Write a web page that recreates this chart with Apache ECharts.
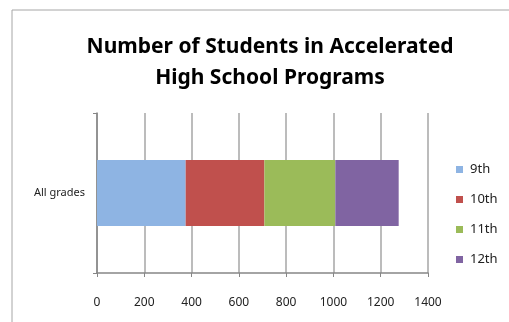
<!DOCTYPE html>
<html>
<head>
<meta charset="utf-8">
<script src="https://cdn.jsdelivr.net/npm/echarts@6/dist/echarts.min.js"></script>
<style>
  html, body { margin: 0; padding: 0; background: #fff; }
  #chart { width: 509px; height: 322px; }
</style>
</head>
<body>
<div id="chart"></div>
<script>
// data
var categories = ['All grades'];
var grades = ['9th', '10th', '11th', '12th'];
var values = [375, 333, 300, 268];
var colors = ['#8EB4E3', '#C0504D', '#9BBB59', '#8064A2'];
var xTicks = [0, 1400, 200];

var chart = echarts.init(document.getElementById('chart'));

var series = grades.map(function (g, i) {
  return {
    name: g,
    type: 'bar',
    stack: 'all',
    barWidth: 66,
    itemStyle: { color: colors[i] },
    data: [values[i]]
  };
});

chart.setOption({
  backgroundColor: '#fff',
  animation: false,
  textStyle: { fontFamily: 'Noto Sans' },
  graphic: [{
    type: 'rect',
    shape: { x: 12, y: 10, width: 520, height: 330 },
    style: { fill: 'none', stroke: '#a6a6a6', lineWidth: 1 }
  }],
  title: {
    text: 'Number of Students in Accelerated\nHigh School Programs',
    left: 265,
    top: 27,
    textAlign: 'center',
    textStyle: {
      fontFamily: 'Noto Sans',
      fontWeight: 'bold',
      fontSize: 21,
      lineHeight: 31,
      color: '#000'
    }
  },
  legend: {
    orient: 'vertical',
    left: 451,
    top: 158,
    itemWidth: 7,
    itemHeight: 7,
    itemGap: 17,
    icon: 'rect',
    textStyle: { fontSize: 13, color: '#222', padding: [0, 0, 0, 2] },
    data: grades
  },
  grid: { left: 97, right: 81, top: 113, bottom: 49, containLabel: false },
  xAxis: {
    type: 'value',
    min: xTicks[0],
    max: xTicks[1],
    interval: xTicks[2],
    axisLine: { show: true, lineStyle: { color: '#868686', width: 1.5 } },
    axisTick: { show: true, length: 4, lineStyle: { color: '#868686' } },
    axisLabel: { fontSize: 12, color: '#222', margin: 24, formatter: function (v) { return String(v); } },
    splitLine: { show: true, lineStyle: { color: '#a6a6a6', width: 1.5 } }
  },
  yAxis: {
    type: 'category',
    data: categories,
    axisLine: { show: true, lineStyle: { color: '#868686', width: 1.5 } },
    axisTick: { show: true, length: 4, lineStyle: { color: '#868686' } },
    axisLabel: { fontSize: 11, color: '#222', margin: 12 }
  },
  series: series
});
</script>
</body>
</html>
